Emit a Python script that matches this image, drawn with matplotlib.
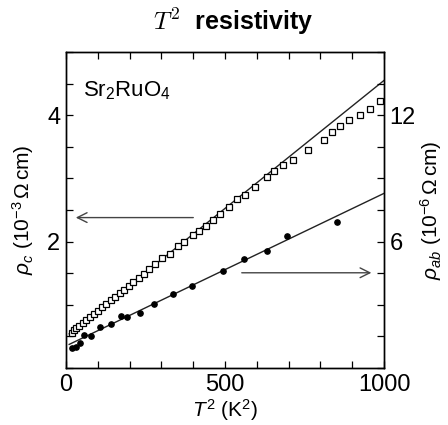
import numpy as np
import matplotlib
matplotlib.use('Agg')
import matplotlib.pyplot as plt

plt.rcParams['font.family'] = ['Liberation Sans', 'DejaVu Sans']
plt.rcParams['mathtext.fontset'] = 'custom'
plt.rcParams['mathtext.rm'] = 'Liberation Sans'
plt.rcParams['mathtext.it'] = 'Liberation Sans:italic'
plt.rcParams['mathtext.bf'] = 'Liberation Sans:bold'

# rho_c (open squares, left axis, 10^-3 Ohm cm)
T2_c = [18, 25, 33, 42, 52, 63, 75, 88, 100, 113, 127, 140, 155, 170, 183, 197,
        212, 228, 245, 262, 280, 301, 327, 353, 372, 398, 419, 440, 461, 484,
        512, 537, 562, 594, 631, 654, 681, 713, 762, 811, 836, 862, 890, 925,
        957, 987]
rho_c = [0.56, 0.60, 0.63, 0.67, 0.71, 0.76, 0.80, 0.86, 0.90, 0.96, 1.01, 1.08,
         1.12, 1.19, 1.24, 1.30, 1.36, 1.42, 1.49, 1.57, 1.64, 1.74, 1.80, 1.93,
         2.00, 2.11, 2.17, 2.25, 2.34, 2.44, 2.55, 2.67, 2.73, 2.87, 3.03, 3.11,
         3.21, 3.29, 3.45, 3.60, 3.73, 3.83, 3.92, 4.01, 4.10, 4.22]

# rho_ab (filled circles, right axis, 10^-6 Ohm cm)
T2_ab = [20, 30, 44, 58, 78, 107, 141, 172, 191, 233, 277, 337, 395, 493, 561,
         631, 696, 853]
rho_ab = [0.95, 1.00, 1.20, 1.55, 1.50, 1.94, 2.10, 2.48, 2.41, 2.63, 3.05, 3.52,
          3.87, 4.62, 5.18, 5.57, 6.25, 6.95]

# T^2 fit lines
fit_T2 = [10, 1000]
fit_rho_c = [0.54, 4.55]
fit_rho_ab = [1.12, 8.29]

fig = plt.figure(figsize=(4.48, 4.25), dpi=100)
ax = fig.add_axes([66 / 448, 57 / 425, 318 / 448, 316 / 425])
ax2 = ax.twinx()

ax.plot(fit_T2, fit_rho_c, color='#222222', lw=1.0)
ax.plot(T2_c, rho_c, ls='none', marker='s', ms=4.5, mfc='white', mec='black', mew=0.9)
ax2.plot(fit_T2, fit_rho_ab, color='#222222', lw=1.0)
ax2.plot(T2_ab, rho_ab, ls='none', marker='o', ms=3.8, color='black')

ax.set_xlim(0, 1000)
ax.set_ylim(0, 5)
ax2.set_ylim(0, 15)

ax.set_xticks(np.arange(0, 1001, 100))
ax.set_xticklabels(['0', '', '', '', '', '500', '', '', '', '', '1000'])
ax.set_yticks(np.arange(0, 5.01, 0.5))
ax.set_yticklabels(['' if v not in (2.0, 4.0) else str(int(v)) for v in np.arange(0, 5.01, 0.5)])
ax2.set_yticks(np.arange(0, 15.01, 1.5))
ax2.set_yticklabels(['' if v not in (6.0, 12.0) else str(int(v)) for v in np.arange(0, 15.01, 1.5)])

ax.tick_params(direction='in', length=5, width=0.9, labelsize=17, top=True, pad=4)
ax2.tick_params(direction='in', length=5, width=0.9, labelsize=17, pad=4)
for a in (ax, ax2):
    for s in a.spines.values():
        s.set_linewidth(1.0)

ax.set_xlabel(r'$T^2$ (K$^2$)', fontsize=15, labelpad=1)
ax.set_ylabel(r'$\rho_c$ (10$^{-3}\,\Omega\,$cm)', fontsize=15, labelpad=8)
ax2.set_ylabel(r'$\rho_{ab}$ (10$^{-6}\,\Omega\,$cm)', fontsize=15, labelpad=2)

ax.text(53, 4.38, r'Sr$_2$RuO$_4$', fontsize=16, va='center', ha='left')

arrow = dict(arrowstyle='->,head_length=0.7,head_width=0.35', color='#444444', lw=1.0)
ax.annotate('', xy=(22, 2.38), xytext=(409, 2.38), arrowprops=arrow)
ax2.annotate('', xy=(969, 4.52), xytext=(544, 4.52), arrowprops=arrow)

fig.text(0.52, 1 - 22 / 425, r'$T^2$  resistivity', math_fontfamily='cm',
         fontsize=18, fontweight='bold', ha='center', va='center')

fig.savefig('out.png', dpi=100)
